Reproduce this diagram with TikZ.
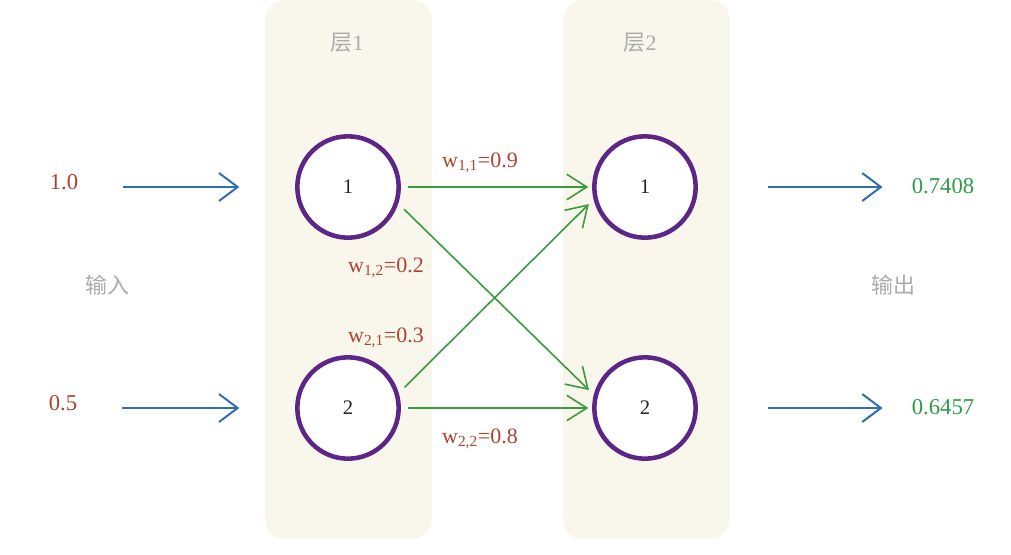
\documentclass[tikz,border=0pt]{standalone}
\usepackage{fontspec}
\setmainfont{Liberation Serif}
\newfontfamily\cjkfont{Noto Sans CJK SC}
\usetikzlibrary{arrows.meta}
\definecolor{panelbg}{HTML}{F9F7EC}
\definecolor{neuron}{HTML}{5B2686}
\definecolor{wred}{HTML}{B0412F}
\definecolor{ogreen}{HTML}{2E9A4A}
\definecolor{agreen}{HTML}{3A9A3E}
\definecolor{ablue}{HTML}{2F6EB4}
\definecolor{lgray}{HTML}{ABABAB}
\tikzset{
  panel/.style={fill=panelbg, draw=none, rounded corners=15pt},
  neuronnode/.style={circle, draw=neuron, line width=3.4pt, fill=white, minimum size=76pt, inner sep=0pt, outer sep=0pt, font=\fontsize{15.5pt}{17pt}\selectfont, text=black!85},
  intext/.style={text=wred, inner sep=0pt, font=\fontsize{17pt}{19pt}\selectfont},
  outtext/.style={text=ogreen, inner sep=0pt, font=\fontsize{17pt}{19pt}\selectfont},
  graytext/.style={text=lgray, inner sep=0pt, font=\fontsize{16.5pt}{19pt}\selectfont},
  wlabel/.style={text=wred, inner sep=0pt, anchor=base, font=\fontsize{16.5pt}{18pt}\selectfont},
  bluearrow/.style={draw=ablue, line width=1.5pt, -{Straight Barb[length=14pt,width=21pt,line width=1.5pt]}},
  greenarrow/.style={draw=agreen, line width=1.2pt, -{Straight Barb[length=15pt,width=19pt,line width=1.2pt]}},
}
\begin{document}
\begin{tikzpicture}[x=0.75pt,y=-0.75pt]
\useasboundingbox (0,0) rectangle (1011,554);
% panels
\fill[panel] (265,0) rectangle (432,539);
\fill[panel] (563,0) rectangle (730,539);
\node[graytext] (l1) at (347,43) {{\cjkfont 层}1};
\node[graytext] (l2) at (640,43) {{\cjkfont 层}2};
% neurons
\node[neuronnode] (n11) at (348,187) {1};
\node[neuronnode] (n12) at (348,408) {2};
\node[neuronnode] (n21) at (645,187) {1};
\node[neuronnode] (n22) at (645,408) {2};
% inputs / outputs
\node[intext] (in1) at (64,182) {1.0};
\node[intext] (in2) at (63,403) {0.5};
\node[outtext] (out1) at (943,186) {0.7408};
\node[outtext] (out2) at (943,407) {0.6457};
\node[graytext] (inl) at (107,285) {\cjkfont 输入};
\node[graytext] (outl) at (893,285) {\cjkfont 输出};
% blue arrows
\draw[bluearrow, shorten <=33.75pt, shorten >=43.5pt] (in1.east |- n11.west) -- (n11.west);
\draw[bluearrow, shorten <=33.75pt, shorten >=43.5pt] (in2.east |- n12.west) -- (n12.west);
\draw[bluearrow, shorten <=54pt, shorten >=21.75pt] (n21.east) -- (out1.west |- n21.east);
\draw[bluearrow, shorten <=54pt, shorten >=21.75pt] (n22.east) -- (out2.west |- n22.east);
% green arrows
\draw[greenarrow, shorten <=7pt, shorten >=4.5pt] (n11) -- (n21);
\draw[greenarrow, shorten <=7pt, shorten >=4.5pt] (n12) -- (n22);
\draw[greenarrow, shorten <=8pt, shorten >=7pt] (n11.-17) -- (n22.167);
\draw[greenarrow, shorten <=8pt, shorten >=7pt] (n12.15) -- (n21.192);
% weights
\node[wlabel] (w11) at (480,167) {w\textsubscript{1,1}=0.9};
\node[wlabel] (w12) at (386,272) {w\textsubscript{1,2}=0.2};
\node[wlabel] (w21) at (386,342) {w\textsubscript{2,1}=0.3};
\node[wlabel] (w22) at (480,443) {w\textsubscript{2,2}=0.8};
\end{tikzpicture}
\end{document}
